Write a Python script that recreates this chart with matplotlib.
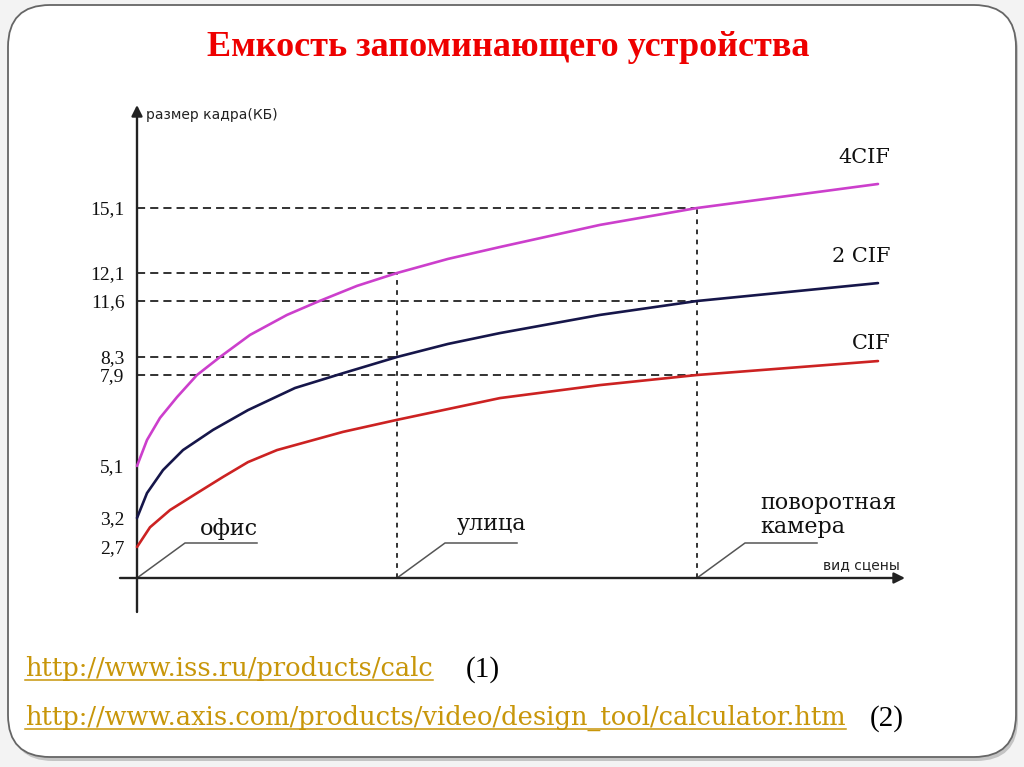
import numpy as np
import matplotlib
matplotlib.use("Agg")
import matplotlib.pyplot as plt
from matplotlib.patches import FancyBboxPatch

# --- values ---
scene_names = ["офис", "улица", "поворотная\nкамера"]
scene_x = [0.0, 2.6, 5.6]

x_4cif = [0, 0.10, 0.23, 0.40, 0.60, 0.83, 1.13, 1.50, 1.80, 2.20, 2.60, 3.11, 3.63, 4.63, 5.60, 7.41]
y_4cif = [5.1, 5.90, 6.58, 7.22, 7.9, 8.3, 9.60, 10.78, 11.54, 11.87, 12.1, 12.75, 13.30, 14.32, 15.1, 16.21]
x_2cif = [0, 0.10, 0.26, 0.46, 0.76, 1.11, 1.58, 2.06, 2.60, 3.11, 3.63, 4.63, 5.60, 7.41]
y_2cif = [3.2, 4.11, 4.95, 5.59, 6.21, 6.82, 7.50, 7.94, 8.3, 9.07, 9.71, 10.78, 11.6, 11.92]
x_cif = [0, 0.13, 0.33, 0.60, 0.86, 1.11, 1.40, 2.06, 2.60, 3.63, 4.63, 5.60, 7.41]
y_cif = [2.7, 3.04, 3.49, 4.11, 4.70, 5.22, 5.59, 6.15, 6.52, 7.19, 7.59, 7.9, 8.21]

series_names = ["4CIF", "2 CIF", "CIF"]
series_colors = ["#cc3fcc", "#16164a", "#cc2222"]

tick_vals = [2.7, 3.2, 5.1, 7.9, 8.3, 11.6, 12.1, 15.1]
tick_labels = ["2,7", "3,2", "5,1", "7,9", "8,3", "11,6", "12,1", "15,1"]

# the slide's y axis is schematic (not linear): value -> height in px
knot_vals = [-4, 0, 2.7, 3.2, 5.1, 7.9, 8.3, 11.6, 12.1, 15.1, 20]
knot_px = [-46, 0, 31, 60, 112, 203, 221, 277, 305, 370, 476]

title = "Емкость запоминающего устройства"
links = ["http://www.iss.ru/products/calc",
         "http://www.axis.com/products/video/design_tool/calculator.htm"]
link_refs = ["(1)", "(2)"]


def fwd(v):
    return np.interp(v, knot_vals, knot_px)


def inv(h):
    return np.interp(h, knot_px, knot_vals)


fig = plt.figure(figsize=(10.24, 7.67), dpi=100, facecolor="#f3f3f3")

# slide background, in pixel coordinates
bg = fig.add_axes([0, 0, 1, 1], zorder=0)
bg.set_xlim(0, 1024)
bg.set_ylim(767, 0)
bg.axis("off")
bg.add_patch(FancyBboxPatch((11, 9), 1007, 752, boxstyle="round,pad=0,rounding_size=42",
                            fc="#c4c4c4", ec="none"))
bg.add_patch(FancyBboxPatch((8, 5), 1008, 752, boxstyle="round,pad=0,rounding_size=42",
                            fc="white", ec="#666666", lw=1.3))

bg.text(508, 48, title, color="#ee0000", fontsize=26, fontweight="bold",
        family="Liberation Serif", ha="center", va="center")

link_base = [676, 725]
ref_x = [466, 870]
for i, (lk, ref) in enumerate(zip(links, link_refs)):
    bg.text(25, link_base[i], lk, color="#c8960a", fontsize=18.5, family="DejaVu Serif",
            ha="left", va="baseline")
    bg.text(ref_x[i], link_base[i] + 1, ref, color="black", fontsize=21,
            family="Liberation Serif", ha="left", va="baseline")

# --- the chart ---
ax = fig.add_axes([100 / 1024, 143 / 767, 820 / 1024, 522 / 767], zorder=1)
ax.set_facecolor("none")
ax.set_yscale("function", functions=(fwd, inv))
ax.set_xlim(-0.37, 7.83)
ax.set_ylim(-4, 20)
for s in ax.spines.values():
    s.set_visible(False)
ax.spines["left"].set_position(("data", 0))
ax.set_xticks([])
ax.set_yticks(tick_vals, tick_labels)
ax.minorticks_off()
ax.tick_params(axis="y", length=0, pad=9, labelsize=14, labelcolor="#111111",
               labelfontfamily="Liberation Serif")

# axes with arrows
y_top = inv(473)
ax.annotate("", xy=(0, y_top), xytext=(0, inv(-34)),
            arrowprops=dict(arrowstyle="-|>", lw=1.7, color="#222222",
                            mutation_scale=16, shrinkA=0, shrinkB=0))
ax.annotate("", xy=(7.68, 0), xytext=(-0.17, 0),
            arrowprops=dict(arrowstyle="-|>", lw=1.7, color="#222222",
                            mutation_scale=16, shrinkA=0, shrinkB=0))
ax.annotate("размер кадра(КБ)", (0, y_top), xytext=(9, -10), textcoords="offset pixels",
            ha="left", va="center", fontsize=10, family="DejaVu Sans", color="#222222")
ax.annotate("вид сцены", (7.68, 0), xytext=(-5, 13), textcoords="offset pixels",
            ha="right", va="center", fontsize=10, family="DejaVu Sans", color="#222222")

series = [(x_4cif, y_4cif), (x_2cif, y_2cif), (x_cif, y_cif)]
label_dy = [26, 27, 18]
for (xs, ys), name, col, dy in zip(series, series_names, series_colors, label_dy):
    ax.plot(xs, ys, color=col, lw=1.9, solid_capstyle="round", solid_joinstyle="round", zorder=3)
    ax.annotate(name, (xs[-1], ys[-1]), xytext=(12, dy), textcoords="offset pixels",
                ha="right", va="center", fontsize=15, family="DejaVu Serif", color="#111111")

# dashed guide lines to the labelled values
for sx in scene_x[1:]:
    top = 0
    for xs, ys in series:
        v = ys[xs.index(sx)]
        if v in tick_vals:
            ax.plot([0, sx], [v, v], color="#222222", lw=1.3, dashes=(4.5, 2.8), zorder=2)
            top = max(top, v)
    ax.plot([sx, sx], [0, top], color="#222222", lw=1.3, dashes=(2.6, 3.0), zorder=2)

# scene callouts
lead_y = inv(35)
scene_off = [(63, 43), (60, 48), (63, 45)]
for sx, name, off in zip(scene_x, scene_names, scene_off):
    ax.plot([sx, sx + 0.48, sx + 1.2], [0, lead_y, lead_y], color="#555555", lw=1.1, zorder=2)
    ax.annotate(name, (sx, 0), xytext=off, textcoords="offset pixels", ha="left",
                va="baseline", fontsize=16, family="DejaVu Serif", color="#111111",
                linespacing=1.1)

# underline the links
fig.canvas.draw()
r = fig.canvas.get_renderer()
for t in bg.texts:
    if t.get_text() in links:
        bb = t.get_window_extent(r)
        x0 = bg.transData.inverted().transform((bb.x0, 0))[0]
        x1 = bg.transData.inverted().transform((bb.x1, 0))[0]
        yb = t.get_position()[1] + 4
        bg.plot([x0, x1], [yb, yb], color="#c8960a", lw=1.1)

fig.savefig("out.png", dpi=100, facecolor=fig.get_facecolor())
